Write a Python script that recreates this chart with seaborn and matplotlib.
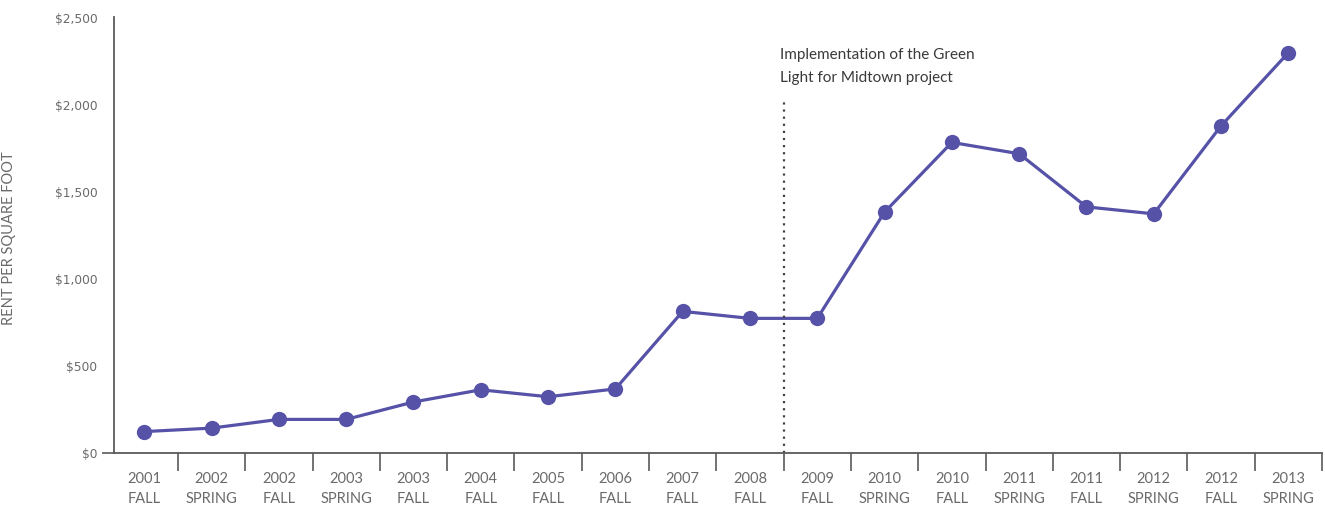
import matplotlib
matplotlib.use("Agg")
import matplotlib.pyplot as plt
import matplotlib.ticker as mticker
import seaborn as sns
import pandas as pd

# Asking rent per square foot, by survey season
years = ["2001", "2002", "2002", "2003", "2003", "2004", "2005", "2006", "2007",
         "2008", "2009", "2010", "2010", "2011", "2011", "2012", "2012", "2013"]
seasons = ["FALL", "SPRING", "FALL", "SPRING", "FALL", "FALL", "FALL", "FALL", "FALL",
           "FALL", "FALL", "SPRING", "FALL", "SPRING", "FALL", "SPRING", "FALL", "SPRING"]
rent = [120, 140, 190, 190, 290, 360, 320, 365, 810,
        770, 770, 1380, 1780, 1715, 1410, 1370, 1875, 2295]
y_ticks = [0, 500, 1000, 1500, 2000, 2500]

# Green Light for Midtown marker: between 2008 FALL and 2009 FALL
event_pos = 9.5
event_top = 2030
event_label = "Implementation of the Green\nLight for Midtown project"

df = pd.DataFrame({"pos": range(len(rent)), "rent": rent,
                   "label": [f"{y}\n{s}" for y, s in zip(years, seasons)]})

sns.set_theme(style="white")
plt.rcParams["font.family"] = ["Lato", "DejaVu Sans"]

line_color = "#5552a8"
axis_color = "#5a5a5a"
text_color = "#6a6a6a"

fig = plt.figure(figsize=(13.25, 5.06), dpi=100)
ax = fig.add_axes([114 / 1325, 52.5 / 506, (1322 - 114) / 1325, (453.5 - 18) / 506])

sns.lineplot(data=df, x="pos", y="rent", ax=ax, color=line_color, linewidth=2.3,
             marker="o", markersize=11, markeredgewidth=0, markeredgecolor=line_color)

ax.set_xlim(-0.45, len(rent) - 0.5)
ax.set_ylim(0, 2500)

# Category labels at band centres, tick marks at band boundaries
ax.set_xticks(df["pos"])
ax.set_xticklabels(df["label"], fontsize=10.5, color=text_color, linespacing=1.55)
ax.xaxis.set_minor_locator(mticker.FixedLocator([p + 0.5 for p in range(len(rent))]))
ax.tick_params(axis="x", which="major", length=0, pad=13)
ax.tick_params(axis="x", which="minor", length=13, width=1.2, color=axis_color,
               direction="out", bottom=True)

ax.set_yticks(y_ticks)
ax.yaxis.set_major_formatter(mticker.FuncFormatter(lambda v, _: f"${v:,.0f}"))
ax.tick_params(axis="y", length=9, width=1.2, color=axis_color, pad=3,
               labelcolor=text_color, left=True)
for lbl in ax.get_yticklabels():
    lbl.set_fontfamily("DejaVu Sans")
    lbl.set_fontsize(8.8)
for t in ax.yaxis.get_major_ticks()[1:]:
    t.tick1line.set_visible(False)

ax.set_xlabel("")
ax.set_ylabel("RENT PER SQUARE FOOT", fontsize=10.5, color=text_color)
ax.yaxis.set_label_coords((16 - 114) / 1208, (453.5 - 238) / 435.5)

for side in ("top", "right"):
    ax.spines[side].set_visible(False)
for side in ("left", "bottom"):
    ax.spines[side].set_color(axis_color)
    ax.spines[side].set_linewidth(1.3)

# Project implementation marker
ax.vlines(event_pos, 0, event_top, colors="#444444", linestyles=(0, (1, 2.2)), linewidth=1.6)
ax.text(event_pos - 0.06, 2330, event_label, ha="left", va="top", fontsize=11,
        color="#3a3a3a", linespacing=1.85)

fig.savefig("out.png", dpi=100, facecolor="white")
